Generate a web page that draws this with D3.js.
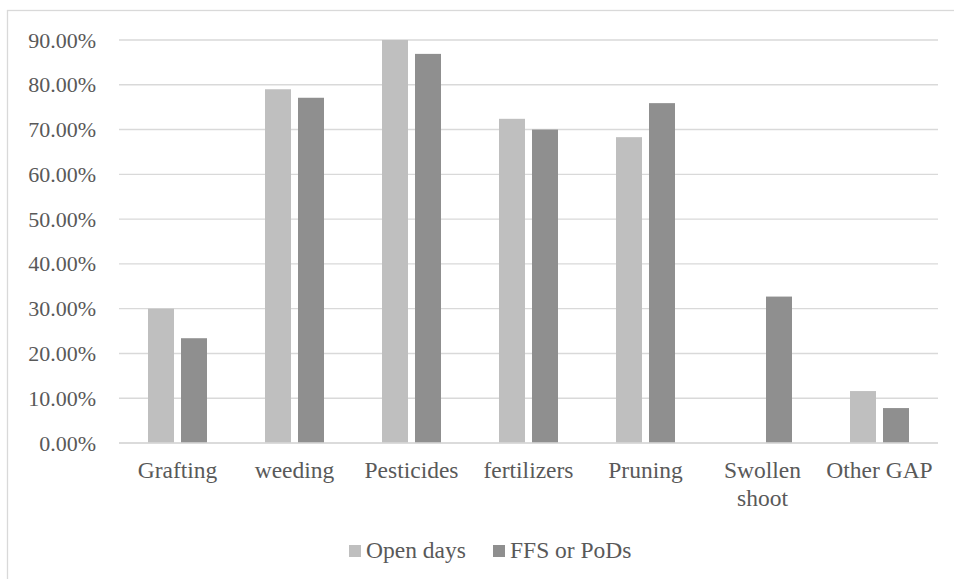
<!DOCTYPE html>
<html>
<head>
<meta charset="utf-8">
<script src="https://cdn.jsdelivr.net/npm/d3@7"></script>
<style>
  html, body { margin: 0; padding: 0; background: #fff; }
  svg { display: block; }
  text { font-family: "Liberation Serif", "Times New Roman", serif; fill: #595959; }
</style>
</head>
<body>
<svg id="chart" width="954" height="579"></svg>
<script>
// Share of respondents adopting each practice, by extension channel
const categories = ["Grafting", "weeding", "Pesticides", "fertilizers", "Pruning", "Swollen shoot", "Other GAP"];
const seriesNames = ["Open days", "FFS or PoDs"];
const openDays = [0.300, 0.790, 0.900, 0.724, 0.683, 0, 0.116];
const ffsOrPods = [0.234, 0.771, 0.869, 0.700, 0.759, 0.327, 0.078];
const yTicks = [0, 0.1, 0.2, 0.3, 0.4, 0.5, 0.6, 0.7, 0.8, 0.9];
const colors = ["#bfbfbf", "#8f8f8f"];

const svg = d3.select("#chart");
const W = 954, H = 579;
const plot = { left: 119, right: 938, top: 40, bottom: 443 };

// outer chart frame
svg.append("rect")
  .attr("x", 7.5).attr("y", 10.5)
  .attr("width", W + 20).attr("height", H + 20)
  .attr("fill", "none").attr("stroke", "#d9d9d9").attr("stroke-width", 1.3);

const y = d3.scaleLinear().domain([0, 0.9]).range([plot.bottom, plot.top]);
const x0 = d3.scaleBand().domain(categories).range([plot.left, plot.right])
  .paddingInner(0.4957).paddingOuter(0.24785);
const x1 = d3.scaleBand().domain(seriesNames).range([0, x0.bandwidth()])
  .paddingInner(0.212).paddingOuter(0);

// gridlines
svg.append("g").selectAll("line").data(yTicks).join("line")
  .attr("x1", plot.left).attr("x2", plot.right)
  .attr("y1", d => y(d)).attr("y2", d => y(d))
  .attr("stroke", "#d9d9d9").attr("stroke-width", 1.4);

// y tick labels
const fmt = d3.format(".2%");
svg.append("g").selectAll("text").data(yTicks).join("text")
  .attr("x", 96).attr("y", d => y(d) + 7.5)
  .attr("text-anchor", "end").attr("font-size", 22)
  .text(d => fmt(d));

// bars
const rows = categories.map((c, i) => ({ c, vals: [openDays[i], ffsOrPods[i]] }));
const groups = svg.append("g").selectAll("g").data(rows).join("g")
  .attr("transform", d => `translate(${x0(d.c)},0)`);
groups.selectAll("rect")
  .data(d => d.vals.map((v, j) => ({ s: seriesNames[j], v, j })))
  .join("rect")
  .attr("x", d => x1(d.s))
  .attr("width", x1.bandwidth())
  .attr("y", d => y(d.v))
  .attr("height", d => plot.bottom - y(d.v))
  .attr("fill", d => colors[d.j]);

// redraw the zero line on top of the bars
svg.append("line")
  .attr("x1", plot.left).attr("x2", plot.right)
  .attr("y1", y(0)).attr("y2", y(0))
  .attr("stroke", "#d9d9d9").attr("stroke-width", 1.4);

// category labels (wrapped to the band width)
const catLabels = svg.append("g").selectAll("text").data(categories).join("text")
  .attr("text-anchor", "middle").attr("font-size", 23.5)
  .attr("x", d => x0(d) + x0.bandwidth() / 2)
  .attr("y", 478);
catLabels.each(function (d) {
  const t = d3.select(this);
  const parts = d === "Swollen shoot" ? ["Swollen", "shoot"] : [d];
  parts.forEach((p, i) => {
    t.append("tspan").attr("x", x0(d) + x0.bandwidth() / 2)
      .attr("dy", i === 0 ? 0 : 28).text(p);
  });
});

// legend
const legendX = [349, 493];
const legend = svg.append("g").selectAll("g").data(seriesNames).join("g")
  .attr("transform", (d, i) => `translate(${legendX[i]},0)`);
legend.append("rect").attr("x", 0).attr("y", 545).attr("width", 12).attr("height", 12)
  .attr("fill", (d, i) => colors[i]);
legend.append("text").attr("x", 17).attr("y", 558).attr("font-size", 23.5).text(d => d);
</script>
</body>
</html>
